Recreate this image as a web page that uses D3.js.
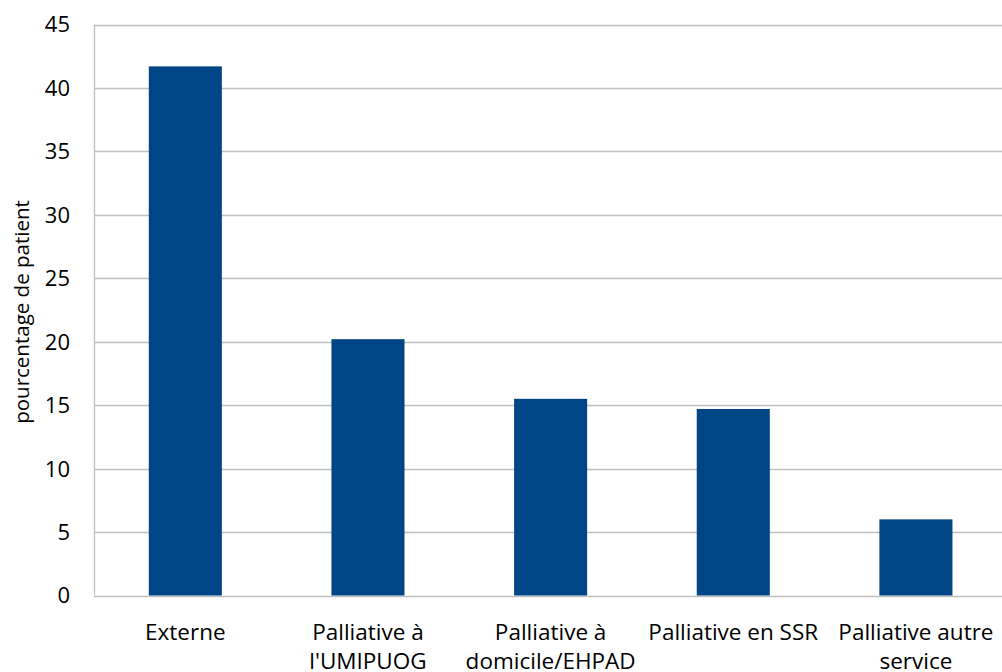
<!DOCTYPE html>
<html><head><meta charset="utf-8">
<script src="https://cdn.jsdelivr.net/npm/d3@7"></script>
<style>body{margin:0;background:#fff}svg{display:block}</style>
</head><body>
<script>
const categories = ["Externe", "Palliative à l'UMIPUOG", "Palliative à domicile/EHPAD", "Palliative en SSR", "Palliative autre service"];
const labelLines = [["Externe"], ["Palliative à", "l'UMIPUOG"], ["Palliative à", "domicile/EHPAD"], ["Palliative en SSR"], ["Palliative autre", "service"]];
const values = [41.7, 20.2, 15.5, 14.7, 6.0];
const yTicks = [0, 5, 10, 15, 20, 25, 30, 35, 40, 45];
const yTitle = "pourcentage de patient";

const W = 1002, H = 672;
const mLeft = 94, mTop = 24.5, mBottom = 595.5, mRight = 94 + 5 * 182.65;
const font = "'Open Sans', 'Liberation Sans', sans-serif";

const svg = d3.select("body").append("svg").attr("width", W).attr("height", H);
const x = d3.scaleBand().domain(categories).range([mLeft, mRight]).paddingInner(0.6).paddingOuter(0.3);
const y = d3.scaleLinear().domain([0, 45]).range([mBottom, mTop]);

// gridlines
svg.append("g").selectAll("line").data(yTicks).join("line")
  .attr("x1", mLeft).attr("x2", mRight)
  .attr("y1", d => Math.round(y(d)) + 0.5).attr("y2", d => Math.round(y(d)) + 0.5)
  .attr("stroke", "#bfbfbf").attr("stroke-width", 1.3);
// left axis line
svg.append("line").attr("x1", mLeft + 0.5).attr("x2", mLeft + 0.5).attr("y1", y(45)).attr("y2", y(0))
  .attr("stroke", "#bfbfbf").attr("stroke-width", 1.3);

// bars
svg.append("g").selectAll("rect").data(values).join("rect")
  .attr("x", (d, i) => x(categories[i])).attr("width", x.bandwidth())
  .attr("y", d => y(d)).attr("height", d => y(0) - y(d))
  .attr("fill", "#004586");

// y tick labels
svg.append("g").selectAll("text").data(yTicks).join("text")
  .attr("x", 70).attr("y", d => y(d)).attr("dy", "0.36em")
  .attr("text-anchor", "end").attr("font-family", font).attr("font-size", 22).attr("fill", "#000")
  .text(d => d);

// y title
svg.append("text").attr("transform", `translate(29,${(mTop + mBottom) / 2 + 2}) rotate(-90)`)
  .attr("text-anchor", "middle").attr("font-family", font).attr("font-size", 20.5).attr("fill", "#000")
  .text(yTitle);

// x labels
const xl = svg.append("g").selectAll("text").data(categories).join("text")
  .attr("x", d => x(d) + x.bandwidth() / 2).attr("y", 640)
  .attr("text-anchor", "middle").attr("font-family", font).attr("font-size", 22.5).attr("fill", "#000");
xl.each(function(d, i) {
  d3.select(this).selectAll("tspan").data(labelLines[i]).join("tspan")
    .attr("x", x(d) + x.bandwidth() / 2).attr("dy", (t, j) => j === 0 ? 0 : 29).text(t => t);
});
</script>
</body></html>
